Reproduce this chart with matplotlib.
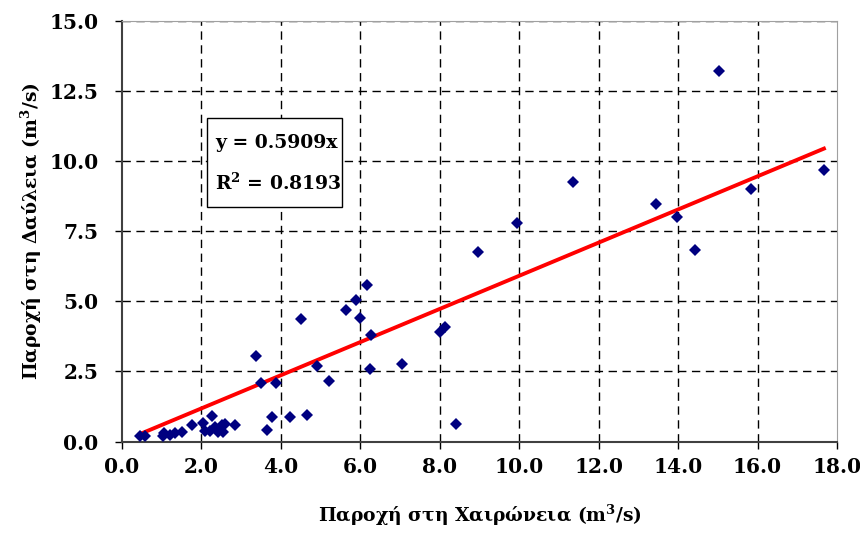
import numpy as np
import matplotlib
matplotlib.use('Agg')
from matplotlib import pyplot as plt
from matplotlib.patches import Rectangle

# flow at Chaironeia (x) vs Davleia (y), m3/s
chaironeia = [0.45, 0.58, 1.04, 1.06, 1.21, 1.33, 1.50, 1.76, 2.05, 2.09,
              2.21, 2.26, 2.34, 2.42, 2.51, 2.55, 2.59, 2.84, 3.37, 3.49,
              3.66, 3.77, 3.87, 4.23, 4.50, 4.66, 4.90, 5.22, 5.64, 5.90,
              6.00, 6.16, 6.24, 6.26, 7.04, 8.00, 8.14, 8.42, 8.96, 9.94,
              11.35, 13.45, 13.98, 14.42, 15.03, 15.84, 17.67]
davleia = [0.21, 0.19, 0.21, 0.31, 0.24, 0.31, 0.33, 0.60, 0.66, 0.39,
           0.39, 0.90, 0.51, 0.33, 0.60, 0.33, 0.63, 0.60, 3.05, 2.08,
           0.40, 0.89, 2.08, 0.89, 4.36, 0.95, 2.70, 2.14, 4.70, 5.04,
           4.42, 5.57, 2.60, 3.79, 2.76, 3.92, 4.07, 0.61, 6.76, 7.79,
           9.26, 8.48, 8.00, 6.81, 13.19, 8.99, 9.67]

slope = 0.5909
r2 = 0.8193

x_ticks = np.arange(0, 18.1, 2.0)
y_ticks = np.arange(0, 15.1, 2.5)

font = 'DejaVu Serif'
plt.rcParams['font.family'] = font
plt.rcParams['font.weight'] = 'bold'
plt.rcParams['mathtext.fontset'] = 'custom'
plt.rcParams['mathtext.rm'] = font + ':bold'
plt.rcParams['mathtext.it'] = font + ':bold'
plt.rcParams['mathtext.bf'] = font + ':bold'

fig = plt.figure(figsize=(8.6, 5.48), dpi=100)
ax = fig.add_axes([0.1419, 0.1943, 0.8314, 0.7679])

# grid
for v in x_ticks[1:-1]:
    ax.axvline(v, color='black', lw=1, dashes=(6, 4), zorder=1)
for v in y_ticks[1:]:
    ax.axhline(v, color='black', lw=1, dashes=(6, 4), zorder=1)

# trend line through origin
xs = np.array([min(chaironeia), max(chaironeia)])
ax.plot(xs, slope * xs, color='red', lw=2.8, zorder=2)

ax.plot(chaironeia, davleia, 'D', color='#000080', markersize=6.2,
        markeredgewidth=0, zorder=3)

ax.set_xlim(0, 18)
ax.set_ylim(0, 15)
ax.set_xticks(x_ticks)
ax.set_yticks(y_ticks)
ax.set_xticklabels(['%.1f' % v for v in x_ticks])
ax.set_yticklabels(['%.1f' % v for v in y_ticks])
ax.tick_params(axis='both', direction='out', length=5, width=1,
               labelsize=14.5, colors='black')
ax.tick_params(axis='x', pad=6)
ax.tick_params(axis='y', pad=12)

ax.spines['left'].set_color('#404040')
ax.spines['bottom'].set_color('#404040')
ax.spines['left'].set_linewidth(1.5)
ax.spines['bottom'].set_linewidth(1.5)
ax.spines['top'].set_color('#a0a0a0')
ax.spines['right'].set_color('#a0a0a0')

ax.set_xlabel('Παροχή στη Χαιρώνεια (m$^3$/s)', fontsize=13.5, fontweight='bold',
              labelpad=19)
ax.set_ylabel('Παροχή στη Δαύλεια (m$^3$/s)', fontsize=13.5, fontweight='bold',
              labelpad=4)

# equation box
ax.add_patch(Rectangle((0.119, 0.557), 0.189, 0.212, transform=ax.transAxes,
                       facecolor='white', edgecolor='black', lw=1, zorder=4))
ax.text(0.130, 0.709, 'y = %.4fx' % slope, transform=ax.transAxes,
        fontsize=13.5, fontweight='bold', va='center', ha='left', zorder=5)
ax.text(0.130, 0.614, 'R$^2$ = %.4f' % r2, transform=ax.transAxes,
        fontsize=13.5, fontweight='bold', va='center', ha='left', zorder=5)

plt.savefig('out.png', dpi=100)
plt.close()
